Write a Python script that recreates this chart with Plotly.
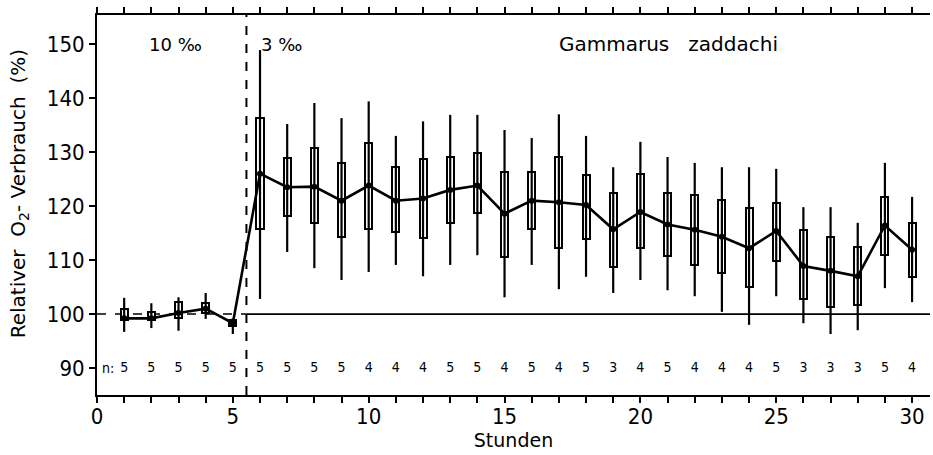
import plotly.graph_objects as go

hours = list(range(1, 31))
mean_vals = [99.2, 99.2, 100.2, 101.0, 98.3, 126.0, 123.5, 123.6, 121.0, 123.8,
             121.0, 121.4, 123.0, 123.8, 118.6, 121.0, 120.7, 120.2, 115.7, 118.9,
             116.6, 115.6, 114.3, 112.2, 115.4, 108.9, 108.0, 107.0, 116.4, 111.9]
box_top = [101.0, 100.4, 102.2, 102.0, 98.9, 136.3, 128.9, 130.7, 128.0, 131.7,
           127.2, 128.7, 129.1, 129.8, 126.3, 126.3, 129.1, 125.7, 122.4, 125.9,
           122.4, 122.0, 121.1, 119.6, 120.6, 115.6, 114.3, 112.4, 121.7, 116.9]
box_bottom = [98.9, 98.9, 99.3, 100.2, 97.8, 115.7, 118.1, 116.9, 114.3, 115.7,
              115.2, 114.1, 116.9, 118.7, 110.6, 115.7, 112.2, 113.9, 108.7, 112.2,
              110.7, 109.1, 107.6, 105.0, 109.8, 102.8, 101.3, 101.7, 110.9, 106.9]
whisk_top = [103.0, 102.0, 103.1, 103.9, 99.2, 148.9, 135.2, 139.1, 136.3, 139.4,
             133.0, 135.7, 136.9, 136.9, 134.1, 132.6, 137.0, 133.0, 127.2, 131.9,
             129.1, 128.0, 127.2, 127.2, 126.9, 119.8, 119.8, 116.9, 128.0, 121.7]
whisk_bottom = [96.7, 97.4, 96.9, 99.1, 96.3, 102.8, 111.5, 108.5, 106.3, 107.8,
                109.1, 107.0, 109.1, 110.9, 103.1, 109.1, 104.6, 106.9, 103.9, 106.3,
                104.4, 103.3, 100.4, 98.0, 103.3, 98.3, 96.3, 97.0, 104.8, 102.2]
n_vals = ["5", "5", "5", "5", "5", "5", "5", "5", "5", "4",
          "4", "4", "5", "5", "4", "5", "4", "5", "3", "4",
          "5", "4", "4", "4", "5", "3", "3", "3", "5", "4"]
y_ticks = [90, 100, 110, 120, 130, 140, 150]
switch_hour = 5.5

FONT = "Liberation Sans Narrow, DejaVu Sans Condensed, Liberation Sans, Arial, sans-serif"
TFONT = "DejaVu Sans, sans-serif"

fig = go.Figure()

# whiskers
wx, wy = [], []
for h, lo, hi in zip(hours, whisk_bottom, whisk_top):
    wx += [h, h, None]
    wy += [lo, hi, None]
fig.add_trace(go.Scatter(x=wx, y=wy, mode="lines",
                         line=dict(color="black", width=2.2),
                         hoverinfo="skip", showlegend=False))

# boxes
fig.add_trace(go.Bar(x=hours, y=[t - b for t, b in zip(box_top, box_bottom)],
                     base=box_bottom, width=0.26,
                     marker=dict(color="white", line=dict(color="black", width=2)),
                     showlegend=False))

# mean line
fig.add_trace(go.Scatter(x=hours, y=mean_vals, mode="lines+markers",
                         line=dict(color="black", width=2.6),
                         marker=dict(color="black", size=6),
                         showlegend=False))

# n labels
fig.add_trace(go.Scatter(x=hours, y=[90] * len(hours), mode="text", text=n_vals,
                         textfont=dict(family=FONT, size=14, color="black"),
                         showlegend=False, hoverinfo="skip"))

fig.add_annotation(x=0.42, y=90, text="n:", showarrow=False,
                   font=dict(family=FONT, size=14, color="black"))

# 100 % reference line
fig.add_shape(type="line", x0=0, x1=switch_hour, y0=100, y1=100, xref="x", yref="y",
              line=dict(color="black", width=1.5, dash="dash"), layer="below")
fig.add_shape(type="line", x0=switch_hour, x1=30.66, y0=100, y1=100, xref="x", yref="y",
              line=dict(color="black", width=1.8), layer="below")
# salinity switch
fig.add_shape(type="line", x0=switch_hour, x1=switch_hour, y0=0, y1=1, xref="x", yref="paper",
              line=dict(color="black", width=2, dash="dash"))

for txt, xx, sz in [("10 ‰", 2.9, 18), ("3 ‰", 6.8, 18), ("Gammarus   zaddachi", 21.05, 20)]:
    fig.add_annotation(x=xx, y=150, text=txt, showarrow=False,
                       font=dict(family=TFONT, size=sz, color="black"))

fig.add_annotation(xref="paper", yref="paper", x=-0.112, y=0.53,
                   text="Relativer  O<sub>2</sub>- Verbrauch  (%)", textangle=-90,
                   showarrow=False, font=dict(family=TFONT, size=20, color="black"))

fig.update_layout(
    width=933, height=455,
    margin=dict(l=97, r=3, t=15, b=60),
    plot_bgcolor="white", paper_bgcolor="white",
    bargap=0,
    xaxis=dict(range=[0, 30.66], tick0=0, dtick=5,
               ticks="outside", ticklen=6, tickwidth=1.5, tickcolor="black",
               minor=dict(dtick=1, ticks="outside", ticklen=6, tickwidth=1.5, tickcolor="black"),
               showline=True, linecolor="black", linewidth=2, mirror="ticks",
               showgrid=False, zeroline=False, ticklabelstandoff=-5,
               tickfont=dict(family=FONT, size=22, color="black"),
               title=dict(text="Stunden", standoff=0,
                          font=dict(family=TFONT, size=19, color="black"))),
    yaxis=dict(range=[85, 155.4], tickvals=y_ticks,
               ticks="outside", ticklen=6, tickwidth=1.5, tickcolor="black",
               showline=True, linecolor="black", linewidth=2,
               showgrid=False, zeroline=False,
               tickfont=dict(family=FONT, size=22, color="black")),
)

fig.write_html("out.html")
